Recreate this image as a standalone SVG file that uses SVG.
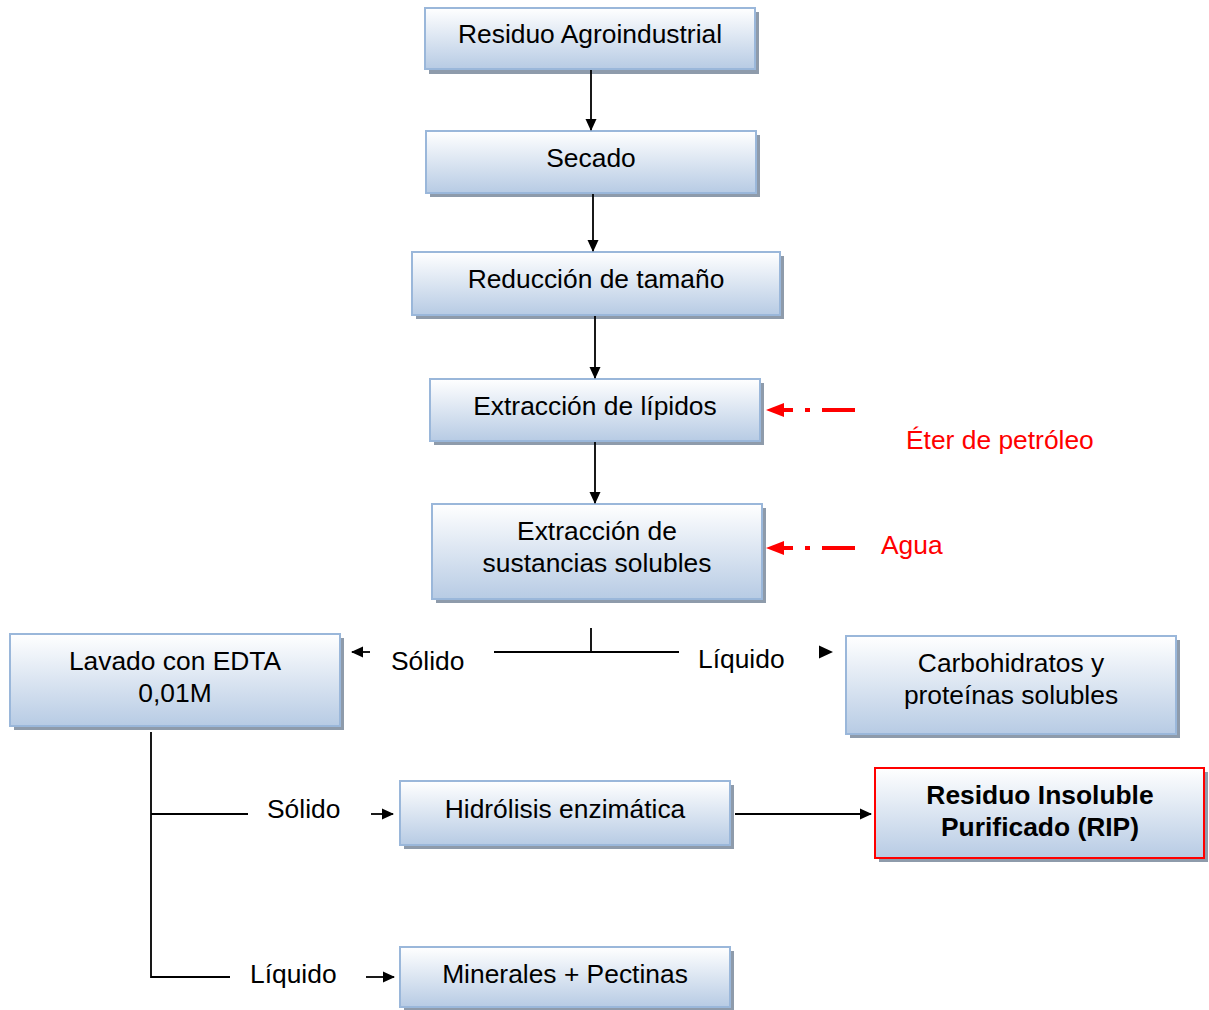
<svg xmlns="http://www.w3.org/2000/svg" width="1209" height="1010" viewBox="0 0 1209 1010">
<defs>
<linearGradient id="g" x1="0" y1="0" x2="0" y2="1">
<stop offset="0" stop-color="#ffffff"/>
<stop offset="1" stop-color="#b7cbe4"/>
</linearGradient>
<marker id="ah" markerWidth="12" markerHeight="12" refX="11" refY="6" orient="auto" markerUnits="userSpaceOnUse" viewBox="0 0 12 12">
<path d="M0,0.5 L12,6 L0,11.5 Z" fill="#000"/>
</marker>
</defs>
<style>
.sh{fill:#8e9bab}
.bx{fill:url(#g);stroke:#9ab7da;stroke-width:2}
.rip{fill:url(#g);stroke:#ff0000;stroke-width:2}
text{font-family:"Liberation Sans",Arial,sans-serif;font-size:26.4px;fill:#000;text-anchor:middle}
.b{font-weight:bold}
.red{fill:#ff0000;text-anchor:start}
.lbl{text-anchor:start}
.ln{stroke:#000;stroke-width:1.8;fill:none}
.rl{stroke:#ff0000;stroke-width:4;fill:none}
</style>
<g id="n1"><rect class="sh" x="429" y="12" width="330" height="62"/><rect class="bx" x="425" y="8" width="330" height="61"/><text x="590" y="43">Residuo Agroindustrial</text></g>
<g id="n2"><rect class="sh" x="430" y="135" width="330" height="62"/><rect class="bx" x="426" y="131" width="330" height="62"/><text x="591" y="167">Secado</text></g>
<g id="n3"><rect class="sh" x="416" y="256" width="368" height="63"/><rect class="bx" x="412" y="252" width="368" height="63"/><text x="596" y="288">Reducción de tamaño</text></g>
<g id="n4"><rect class="sh" x="434" y="383" width="330" height="62"/><rect class="bx" x="430" y="379" width="330" height="62"/><text x="595" y="415">Extracción de lípidos</text></g>
<g id="n5"><rect class="sh" x="436" y="508" width="330" height="95"/><rect class="bx" x="432" y="504" width="330" height="95"/><text x="597" y="540">Extracción de</text><text x="597" y="572">sustancias solubles</text></g>
<g id="n6"><rect class="sh" x="14" y="638" width="330" height="92"/><rect class="bx" x="10" y="634" width="330" height="92"/><text x="175" y="670">Lavado con EDTA</text><text x="175" y="702">0,01M</text></g>
<g id="n7"><rect class="sh" x="850" y="640" width="330" height="98"/><rect class="bx" x="846" y="636" width="330" height="98"/><text x="1011" y="672">Carbohidratos y</text><text x="1011" y="704">proteínas solubles</text></g>
<g id="n8"><rect class="sh" x="404" y="785" width="330" height="64"/><rect class="bx" x="400" y="781" width="330" height="64"/><text x="565" y="818">Hidrólisis enzimática</text></g>
<g id="n9"><rect class="sh" x="879" y="772" width="329" height="90"/><rect class="rip" x="875" y="768" width="329" height="90"/><text class="b" x="1040" y="804">Residuo Insoluble</text><text class="b" x="1040" y="836">Purificado (RIP)</text></g>
<g id="n10"><rect class="sh" x="404" y="951" width="330" height="60"/><rect class="bx" x="400" y="947" width="330" height="60"/><text x="565" y="983">Minerales + Pectinas</text></g>
<g id="labels">
<text class="red" x="906" y="449">Éter de petróleo</text>
<text class="red" x="881" y="554">Agua</text>
<text class="lbl" x="391" y="670">Sólido</text>
<text class="lbl" x="698" y="668">Líquido</text>
<text class="lbl" x="267" y="818">Sólido</text>
<text class="lbl" x="250" y="983">Líquido</text>
</g>
<g id="connectors">
<line class="ln" x1="591" y1="70" x2="591" y2="130" marker-end="url(#ah)"/>
<line class="ln" x1="593" y1="194" x2="593" y2="251" marker-end="url(#ah)"/>
<line class="ln" x1="595" y1="316" x2="595" y2="378" marker-end="url(#ah)"/>
<line class="ln" x1="595" y1="442" x2="595" y2="503" marker-end="url(#ah)"/>
<path class="ln" d="M591,628 V652 M494,652 H679"/>
<line class="ln" x1="370" y1="652" x2="352" y2="652" marker-end="url(#ah)"/>
<path d="M819,645.5 L833,652 L819,658.5 Z" fill="#000"/>
<path class="ln" d="M151,732 V977 H230 M151,814 H248"/>
<line class="ln" x1="371" y1="814" x2="393" y2="814" marker-end="url(#ah)"/>
<line class="ln" x1="366" y1="977" x2="394" y2="977" marker-end="url(#ah)"/>
<line class="ln" x1="735" y1="814" x2="871" y2="814" marker-end="url(#ah)"/>
<g id="red1"><path class="rl" d="M855,410 H822 M810,410 H805 M793,410 H781"/><path d="M766,410 L784,403 L784,417 Z" fill="#ff0000"/></g>
<g id="red2"><path class="rl" d="M855,548 H822 M810,548 H805 M793,548 H781"/><path d="M766,548 L784,541 L784,555 Z" fill="#ff0000"/></g>
</g>
</svg>
